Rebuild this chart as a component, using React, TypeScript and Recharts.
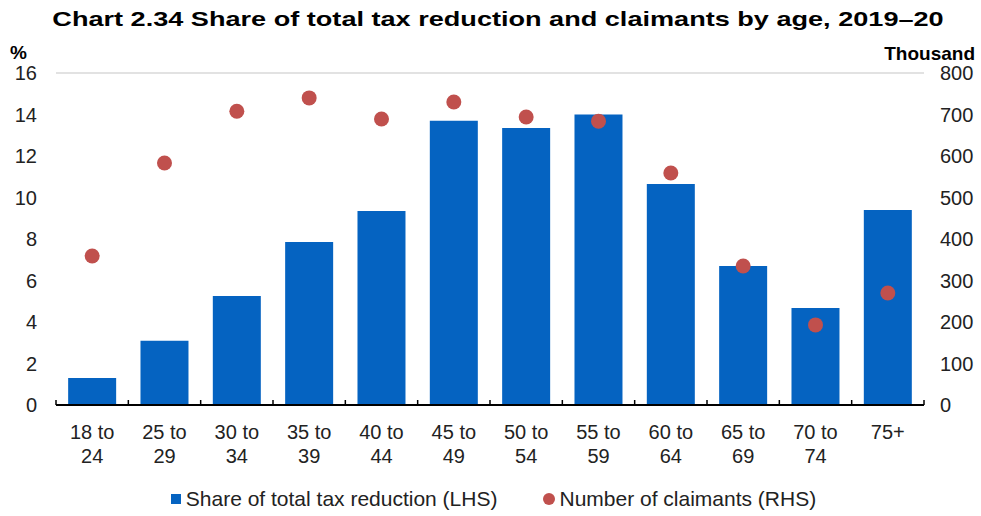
import React from "react";
import {
  ComposedChart,
  Bar,
  Scatter,
  XAxis,
  YAxis,
  CartesianGrid,
  Legend,
} from "recharts";

const ageGroups = [
  "18 to 24",
  "25 to 29",
  "30 to 34",
  "35 to 39",
  "40 to 44",
  "45 to 49",
  "50 to 54",
  "55 to 59",
  "60 to 64",
  "65 to 69",
  "70 to 74",
  "75+",
];
// share of total tax reduction, % (LHS)
const shareOfReduction = [1.3, 3.1, 5.25, 7.85, 9.35, 13.7, 13.35, 14.0, 10.65, 6.7, 4.67, 9.4];
// number of claimants, thousand (RHS)
const claimants = [359, 583, 708, 740, 689, 730, 694, 684, 559, 335, 193, 270];

const leftTicks = [0, 2, 4, 6, 8, 10, 12, 14, 16];
const rightTicks = [0, 100, 200, 300, 400, 500, 600, 700, 800];

const BLUE = "#0563c1";
const RED = "#c0504d";
const FONT = "Arial, 'Liberation Sans', sans-serif";

const data = ageGroups.map((age, i) => ({
  age,
  share: shareOfReduction[i],
  claimants: claimants[i],
}));

const AgeTick = (props: any) => {
  const { x, y, payload, width, visibleTicksCount, index } = props;
  const band = width / visibleTicksCount;
  const words = String(payload.value).split(" ");
  const lines = words.length > 2 ? [words.slice(0, 2).join(" "), words.slice(2).join(" ")] : [words.join(" ")];
  const left = x - band / 2;
  return (
    <g>
      <line x1={left} x2={left} y1={y} y2={y - 5} stroke="#000" strokeWidth={1.5} />
      {index === visibleTicksCount - 1 && (
        <line x1={x + band / 2} x2={x + band / 2} y1={y} y2={y - 5} stroke="#000" strokeWidth={1.5} />
      )}
      {lines.map((l, i) => (
        <text
          key={i}
          x={x}
          y={y + 34 + i * 24}
          textAnchor="middle"
          fontSize={20}
          fontFamily={FONT}
          fill="#222"
        >
          {l}
        </text>
      ))}
    </g>
  );
};

const Dot = (props: any) => {
  const { cx, cy } = props;
  return <circle cx={cx} cy={cy} r={7.5} fill={RED} />;
};

const LegendBox = () => (
  <div
    style={{
      display: "flex",
      justifyContent: "center",
      alignItems: "center",
      fontFamily: FONT,
      fontSize: 21,
      color: "#222",
      height: 30,
      paddingTop: 8,
      paddingLeft: 6,
      boxSizing: "border-box",
    }}
  >
    <span style={{ display: "inline-block", width: 10, height: 10, background: BLUE, marginRight: 5 }} />
    <span style={{ marginRight: 46 }}>Share of total tax reduction (LHS)</span>
    <span
      style={{ display: "inline-block", width: 12, height: 12, borderRadius: "50%", background: RED, marginRight: 4 }}
    />
    <span>Number of claimants (RHS)</span>
  </div>
);

export default function App() {
  return (
    <div style={{ position: "absolute", left: 0, top: 0, width: 981, height: 516, background: "#fff" }}>
      <div
        style={{
          position: "absolute",
          top: 7,
          left: 498,
          whiteSpace: "nowrap",
          transform: "translateX(-50%) scaleX(1.29)",
          fontFamily: FONT,
          fontWeight: "bold",
          fontSize: 21,
          color: "#000",
        }}
      >
        Chart 2.34 Share of total tax reduction and claimants by age, 2019–20
      </div>
      <div style={{ position: "absolute", left: 10, top: 42, fontFamily: FONT, fontWeight: "bold", fontSize: 19 }}>%</div>
      <div style={{ position: "absolute", right: 6, top: 43, fontFamily: FONT, fontWeight: "bold", fontSize: 19 }}>
        Thousand
      </div>
      <ComposedChart
        width={981}
        height={516}
        data={data}
        margin={{ top: 73, right: 0, bottom: 6, left: 0 }}
        barCategoryGap="16.8%"
      >
        <CartesianGrid vertical={false} stroke="#d9d9d9" strokeWidth={1.3} />
        <XAxis
          dataKey="age"
          interval={0}
          tickSize={0}
          tickMargin={0}
          height={75}
          axisLine={{ stroke: "#000", strokeWidth: 2 }}
          tick={<AgeTick />}
        />
        <YAxis
          yAxisId="left"
          domain={[0, 16]}
          ticks={leftTicks}
          width={56}
          axisLine={false}
          tickLine={false}
          tickSize={0}
          tickMargin={19}
          tick={{ fontSize: 20, fontFamily: FONT, fill: "#222" }}
        />
        <YAxis
          yAxisId="right"
          orientation="right"
          domain={[0, 800]}
          ticks={rightTicks}
          width={57}
          axisLine={false}
          tickLine={false}
          tickSize={0}
          tickMargin={16}
          tick={{ fontSize: 20, fontFamily: FONT, fill: "#222" }}
        />
        <Legend verticalAlign="bottom" height={30} content={<LegendBox />} />
        <Bar yAxisId="left" dataKey="share" fill={BLUE} isAnimationActive={false} />
        <Scatter yAxisId="right" dataKey="claimants" fill={RED} shape={<Dot />} isAnimationActive={false} />
      </ComposedChart>
    </div>
  );
}
